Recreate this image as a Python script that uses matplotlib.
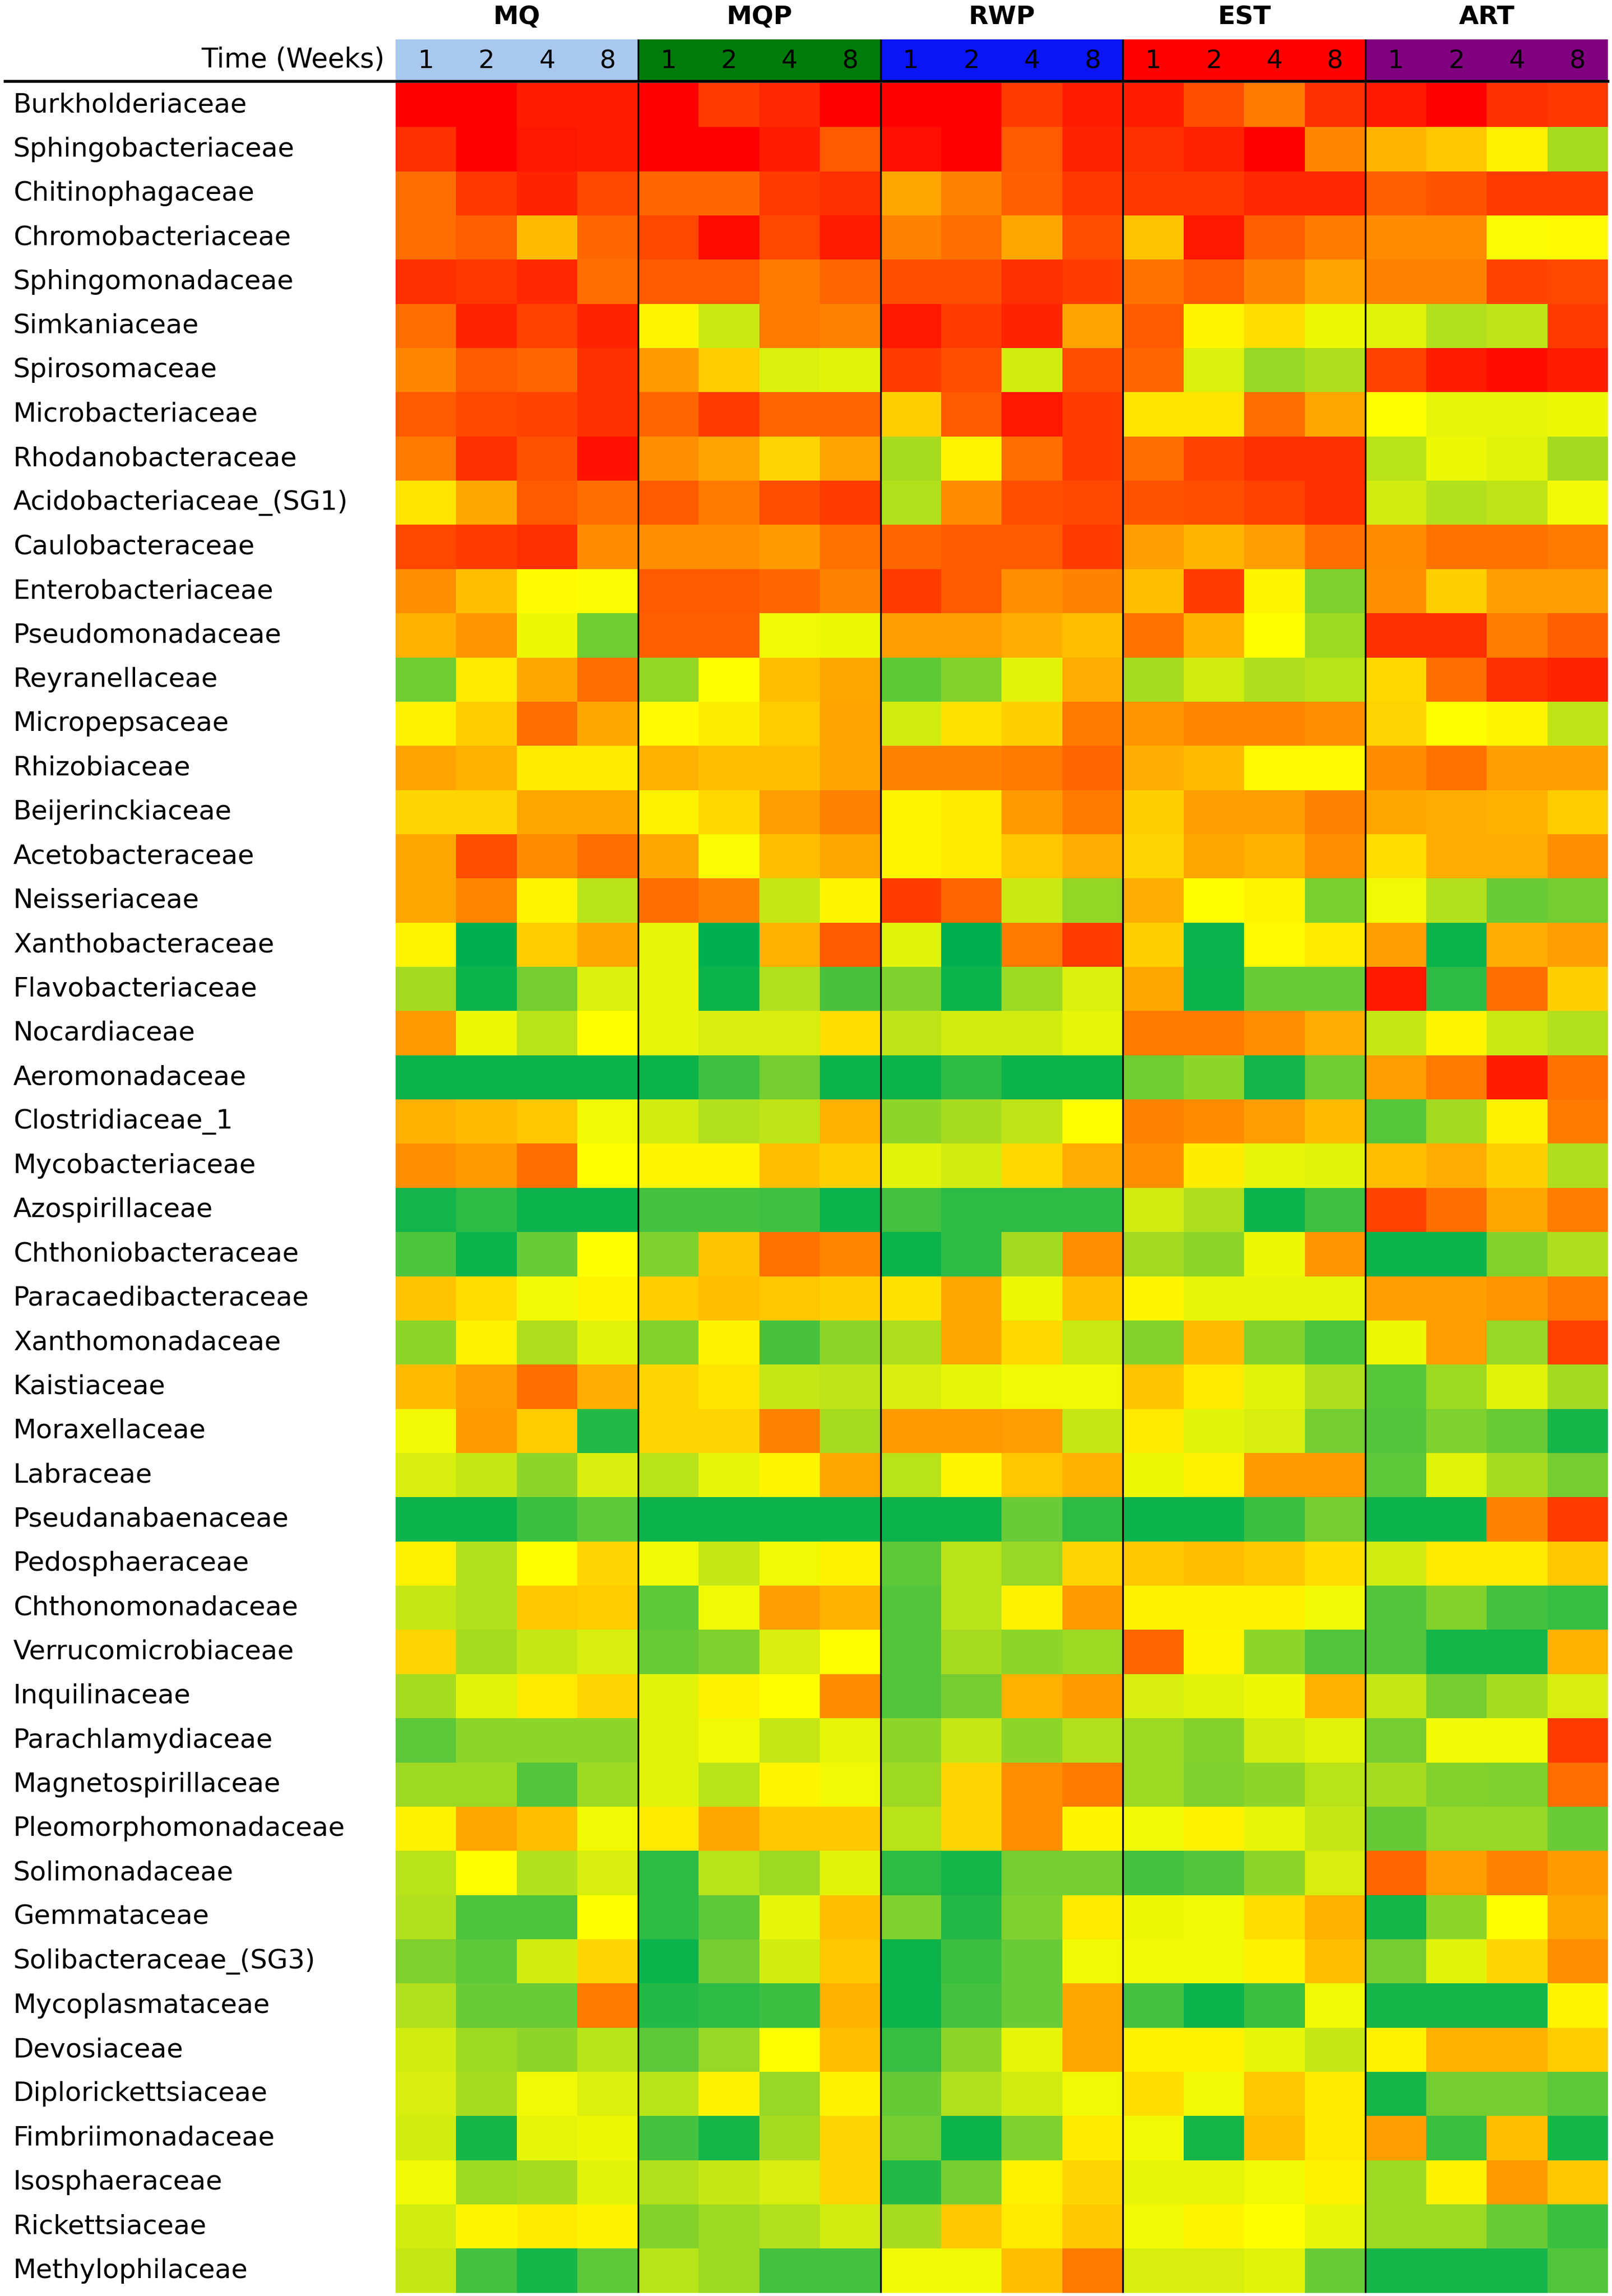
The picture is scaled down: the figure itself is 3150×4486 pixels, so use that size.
import numpy as np
import matplotlib
matplotlib.use("Agg")
import matplotlib.pyplot as plt
from matplotlib.colors import LinearSegmentedColormap
from matplotlib.transforms import blended_transform_factory
from matplotlib.lines import Line2D

families = ["Burkholderiaceae", "Sphingobacteriaceae", "Chitinophagaceae", "Chromobacteriaceae",
            "Sphingomonadaceae", "Simkaniaceae", "Spirosomaceae", "Microbacteriaceae",
            "Rhodanobacteraceae", "Acidobacteriaceae_(SG1)", "Caulobacteraceae", "Enterobacteriaceae",
            "Pseudomonadaceae", "Reyranellaceae", "Micropepsaceae", "Rhizobiaceae", "Beijerinckiaceae",
            "Acetobacteraceae", "Neisseriaceae", "Xanthobacteraceae", "Flavobacteriaceae", "Nocardiaceae",
            "Aeromonadaceae", "Clostridiaceae_1", "Mycobacteriaceae", "Azospirillaceae",
            "Chthoniobacteraceae", "Paracaedibacteraceae", "Xanthomonadaceae", "Kaistiaceae",
            "Moraxellaceae", "Labraceae", "Pseudanabaenaceae", "Pedosphaeraceae", "Chthonomonadaceae",
            "Verrucomicrobiaceae", "Inquilinaceae", "Parachlamydiaceae", "Magnetospirillaceae",
            "Pleomorphomonadaceae", "Solimonadaceae", "Gemmataceae", "Solibacteraceae_(SG3)",
            "Mycoplasmataceae", "Devosiaceae", "Diplorickettsiaceae", "Fimbriimonadaceae",
            "Isosphaeraceae", "Rickettsiaceae", "Methylophilaceae"]

groups = ["MQ", "MQP", "RWP", "EST", "ART"]
group_colors = ["#a9c8ee", "#007a0a", "#0a14f5", "#ff0000", "#800080"]
weeks = ["1", "2", "4", "8"]

# relative abundance score, 0 = lowest (green) .. 10 = highest (red)
mq = [[10,10,9.5,9.5],[9.2,10,9.6,9.5],[8.2,9.1,9.4,8.8],[8.2,8.4,6.6,8.3],[9.2,9.1,9.3,8.2],
      [8.2,9.4,8.9,9.4],[7.7,8.5,8.3,9.2],[8.5,8.8,8.9,9.2],[8,9.2,8.6,9.7],[5.6,7,8.5,8.2],
      [8.8,9,9.2,7.6],[7.5,6.5,5.1,4.9],[6.8,7.4,4.7,2.4],[2.4,5.5,7,8.2],[5.3,6.2,8.2,7],
      [7.1,6.8,5.5,5.5],[6,6,7,7],[7,8.7,7.6,8.2],[7,7.7,5.2,3.8],[5.2,0,6.2,7],
      [3.4,0.3,2.5,4.4],[7.3,4.7,3.8,5],[0.3,0.3,0.3,0.3],[6.8,6.6,6.3,4.8],[7.5,7.3,8.2,5],
      [0.4,1,0.3,0.3],[1.7,0.3,2.3,5],[6.4,5.8,4.8,5.2],[3,5.3,3.6,4.5],[6.6,7.2,8.2,6.9],
      [4.8,7.3,6.2,0.8],[4.3,4,3,4.3],[0.3,0.3,1.3,2],[5.3,3.7,5,6],[4,3.7,6.3,6.2],
      [6,3.5,4,4.3],[3.5,4.5,5.5,6],[2,3,3,3],[3.3,3.3,1.8,3.3],[5.3,7,6.5,4.8],
      [3.8,5,3.7,4.3],[3.7,1.7,1.7,5],[2.7,2,4.2,6],[3.7,2.3,2.3,8],[4.2,3.3,3,3.8],
      [4.3,3.5,4.8,4.4],[4.2,0.5,4.6,4.7],[4.8,3.3,3.5,4.5],[4.2,5.2,5.5,5.3],[4,1.5,0.5,2]]

mqp = [[10,9,9.3,10],[10,10,9.5,8.5],[8.3,8.3,9,9.2],[8.8,9.8,8.8,9.5],[8.5,8.5,8,8.3],
       [5.2,4.1,8,7.8],[7.3,6.2,4.4,4.5],[8.3,9,8.3,8.3],[7.5,7.1,6,7.1],[8.5,8,8.7,9],
       [7.5,7.5,7.3,8.1],[8.5,8.5,8.3,7.8],[8.4,8.4,4.8,4.7],[3.1,5,6.5,7],[5.1,5.4,6.2,7.1],
       [6.8,6.5,6.5,7.1],[5.3,5.9,7.2,7.8],[7,4.9,6.5,7],[8.2,7.8,4,5.2],[4.6,0,6.8,8.5],
       [4.6,0.3,3.7,1.6],[4.6,4.3,4.3,5.8],[0.3,1.4,2.5,0.3],[4.2,3.7,3.9,6.8],[5.2,5.2,6.5,6.1],
       [1.5,1.5,1.4,0.3],[2.7,6.4,8.1,7.7],[6.2,6.5,6.3,6.1],[2.8,5.3,1.6,3],[6,5.6,4,3.9],
       [6,6,7.8,3.5],[3.8,4.6,5.2,7],[0.3,0.3,0.3,0.3],[4.8,4,4.8,5.3],[2,4.8,7.2,6.8],
       [2.3,2.7,4.3,5],[4.5,5.3,5,7.6],[4.5,4.8,4,4.6],[4.5,3.8,5.2,4.8],[5.5,7,6.3,6.3],
       [1,3.8,3.3,4.5],[1,2,4.6,6.5],[0.3,2.5,4.2,6.3],[0.8,1,1.3,6.8],[2,3.2,5,6.5],
       [3.8,5.3,3.2,5.3],[1.5,0.5,3.5,6],[3.7,4,4.3,6],[2.8,3.3,3.7,4.2],[3.8,3.3,1.5,1.5]]

rwp = [[10,10,9,9.5],[9.7,10,8.5,9.4],[7,7.8,8.4,9.1],[7.8,8.2,7,8.7],[8.7,8.7,9.2,9],
       [9.6,9,9.4,7.1],[9,8.7,4.2,8.7],[6.1,8.5,9.6,9],[3.5,5.2,8.2,9],[3.7,7.6,8.7,8.8],
       [8.3,8.5,8.5,9],[9,8.5,7.5,7.8],[7.2,7.2,6.9,6.5],[2.1,2.8,4.5,6.9],[4.2,5.7,6.1,8],
       [7.8,7.8,8,8.3],[5.2,5.5,7.3,8],[5.2,5.5,6.3,6.9],[9,8.3,4.1,3.1],[4.5,0,8,9],
       [2.7,0.3,3.3,4.4],[3.9,4.2,4.2,4.6],[0.3,1,0.3,0.3],[3,3.5,3.9,5],[4.5,4.2,5.9,6.9],
       [1.5,1,1,1],[0.3,1,3.4,7.5],[5.7,7,4.7,6.5],[3.6,7,5.9,4.1],[4.3,4.6,4.8,4.8],
       [7.3,7.3,7.2,4],[3.8,5.2,6.3,6.8],[0.3,0.3,2.3,1],[2,3.8,3.2,6],[1.8,3.8,5.3,7.3],
       [1.8,3.5,3,3.3],[1.8,2.5,6.8,7.3],[3,4,3,3.7],[3.3,6,7.5,8],[3.8,6,7.5,5.2],
       [1,0.5,2.5,2.5],[2.7,0.8,2.7,5.5],[0.3,1.3,2.3,4.8],[0.3,1.5,2.3,7],[1.2,3,4.6,7],
       [2.2,3.7,4.2,4.8],[2.5,0.3,2.7,5.5],[0.8,2.5,5.3,6],[3.5,6.3,5.5,6.3],[4.8,4.8,6.5,8]]

est = [[9.5,8.7,8,9.2],[9.2,9.4,10,7.7],[9.1,9.1,9.3,9.3],[6.4,9.6,8.4,8],[8.1,8.5,7.8,7.1],
       [8.5,5.2,5.8,4.7],[8.3,4.4,3.2,3.6],[5.6,5.6,8.2,7],[8.2,8.9,9.2,9.2],[8.6,8.7,8.9,9.2],
       [7.2,6.7,7.2,8.2],[6.5,9,5.2,2.7],[8.1,6.8,5,3.3],[3.5,4.2,3.6,3.8],[7.4,7.7,7.7,7.5],
       [6.9,6.6,5.1,5.1],[6.1,7.2,7.2,7.8],[6,7,6.8,7.5],[6.9,5,5.2,2.6],[6.1,0.2,5.1,5.5],
       [7,0.3,2.3,2.3],[8,8,7.5,6.9],[2.4,3,0.4,2.4],[7.8,7.6,7.2,6.6],[7.5,5.4,4.6,4.5],
       [4.2,3.6,0.3,1.4],[3.4,3,4.7,7.4],[5.2,4.6,4.6,4.6],[2.8,6.6,2.8,1.7],[6.4,5.5,4.5,3.6],
       [5.5,4.5,4.3,2.5],[4.7,5.3,7.3,7.3],[0.3,0.3,1.3,2.5],[6.3,6.5,6.3,5.8],[5.3,5.3,5.3,4.8],
       [8.3,5.2,3,1.8],[4.3,4.5,4.7,6.8],[3.3,2.8,4.2,4.5],[3.3,2.7,3,3.8],[4.8,5.3,4.6,4],
       [1.5,1.8,3,4.3],[4.7,4.8,5.8,6.8],[4.8,4.8,5.3,6.5],[1.5,0.3,1.3,4.8],[5.3,5.3,4.6,4],
       [5.8,4.8,6.3,5.5],[4.8,0.5,6.5,5.5],[4.6,4.6,4.8,5.3],[4.8,5.2,5,4.6],[4.3,4.3,4.5,2.3]]

art = [[9.6,10,9.2,9.1],[6.7,6.3,5.3,3.5],[8.4,8.6,9,9],[7.6,7.6,4.9,5.1],[7.8,7.8,8.9,8.8],
       [4.5,3.7,3.9,9],[8.9,9.5,9.8,9.5],[5,4.6,4.6,4.7],[3.8,4.7,4.5,3.4],[4.2,3.7,3.9,4.8],
       [7.6,8.1,8.1,8],[7.5,6.1,7.2,7.2],[9.2,9.2,7.9,8.4],[5.9,8.2,9.2,9.4],[6,5,5.2,3.9],
       [7.6,8.1,7.2,7.2],[7,6.9,6.8,6.2],[5.8,6.9,6.9,7.5],[4.8,3.7,2.3,2.5],[7.2,0.3,6.9,7.2],
       [9.6,1,8.2,6.1],[4,5.2,4.1,3.7],[7.2,8,9.5,8.1],[1.9,3.4,5.3,8],[6.5,6.9,6.1,3.6],
       [8.9,8.2,7,7.9],[0.3,0.3,2.8,3.6],[7.2,7.2,7.4,8],[4.7,7.2,3.2,8.9],[1.9,3.3,4.5,3.4],
       [1.8,2.7,2.3,0.5],[2,4.5,3.5,2.5],[0.3,0.3,7.8,9],[4.2,5.5,5.5,6.3],[1.8,2.8,1.5,1.2],
       [1.8,0.5,0.5,6.8],[4,2.5,3.5,4.3],[2.5,4.8,4.8,9],[3.5,2.8,2.7,8.2],[2.2,3.2,3.2,2.3],
       [8.3,7.2,7.8,7.3],[0.5,3,5,7],[2.5,4.5,6,7.5],[0.5,0.5,0.5,5.2],[5.3,6.8,6.8,6.2],
       [0.5,2.5,2.5,2],[7.2,1.3,6.5,0.5],[3.3,5.3,7.3,6.3],[3.3,3.3,2.3,1.3],[0.5,0.5,0.5,1.8]]

data = np.hstack([np.array(g, dtype=float) for g in (mq, mqp, rwp, est, art)])
n_rows, n_cols = data.shape

cmap = LinearSegmentedColormap.from_list("gyr", [
    (0.00, "#00b050"), (0.20, "#5cc83a"), (0.35, "#a8dc20"), (0.50, "#ffff00"),
    (0.65, "#ffc000"), (0.80, "#ff7a00"), (1.00, "#ff0000")])

W, H = 3150, 4486
fig = plt.figure(figsize=(W / 100, H / 100), dpi=100)
fig.patch.set_facecolor("white")
font = "DejaVu Sans"

left, right = 773 / W, 3142 / W
top_px, bot_px = 162, 4480
ax = fig.add_axes([left, 1 - bot_px / H, right - left, (bot_px - top_px) / H])
ax.imshow(data, cmap=cmap, vmin=0, vmax=10, aspect="auto", interpolation="nearest",
          extent=(0, n_cols, n_rows, 0))
ax.set_xlim(0, n_cols)
ax.set_ylim(n_rows, 0)
ax.set_xticks([])
ax.set_yticks([])
for s in ax.spines.values():
    s.set_visible(False)
for k in range(1, len(groups)):
    ax.axvline(k * 4, color="black", lw=2.4)

# row labels
tr = blended_transform_factory(fig.transFigure, ax.transData)
for i, name in enumerate(families):
    ax.text(26 / W, i + 0.5, name, transform=tr, ha="left", va="center",
            fontsize=37.5, family=font, color="black", clip_on=False)

# header axes: coloured group boxes with week numbers
hdr_top, hdr_bot = 77, 158
hax = fig.add_axes([left, 1 - hdr_bot / H, right - left, (hdr_bot - hdr_top) / H])
hax.set_xlim(0, n_cols)
hax.set_ylim(0, 1)
hax.axis("off")
for k, (g, c) in enumerate(zip(groups, group_colors)):
    hax.axvspan(k * 4, k * 4 + 4, color=c, lw=0)
    if k > 0:
        hax.axvline(k * 4, color="black", lw=2.4)
    for j, w in enumerate(weeks):
        hax.text(k * 4 + j + 0.5, 0.48, w, ha="center", va="center", fontsize=36,
                 family=font, color="black")
    hax.text(k * 4 + 2, 1 + 44 / (hdr_bot - hdr_top), g, ha="center", va="center",
             fontsize=36, fontweight="bold", family=font, color="black", clip_on=False)

fig.text(752 / W, 1 - 117 / H, "Time (Weeks)", ha="right", va="center", fontsize=38,
         family=font, color="black")

fig.add_artist(Line2D([10 / W, right], [1 - 159 / H, 1 - 159 / H], color="black", lw=4,
                      transform=fig.transFigure))

fig.savefig("out.png", dpi=100, facecolor="white")
